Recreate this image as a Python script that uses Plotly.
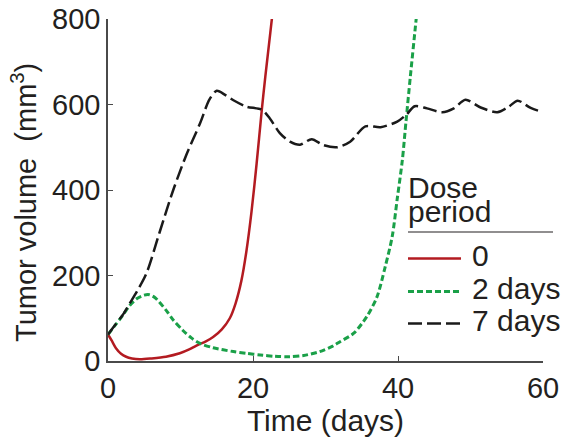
import plotly.graph_objects as go

# ---- data ----
t_red = [0, 0.5, 1.1, 1.8, 2.5, 3.3, 4.4, 6, 8, 9.9, 11.2, 12.2, 13.5, 14.5, 15.7, 16.8, 17.6, 18.4, 19.1, 19.8, 20.5, 21.2, 21.7, 22.2, 22.6, 23.0]
v_red = [62, 48, 30, 17, 10, 6, 4, 6, 10, 18, 27, 36, 46, 56, 74, 100, 135, 188, 258, 350, 462, 585, 665, 740, 800, 860]

t_green = [0, 1, 2, 3, 4, 5, 5.7, 6.5, 8, 9, 10.3, 11.5, 12.7, 14.5, 17.3, 19.1, 21, 23, 25, 27, 29.2, 31, 32, 33.9, 35.7, 37.1, 38.2, 39.2, 39.9, 40.6, 41.1, 41.7, 42.4, 42.8]
v_green = [62, 84, 106, 130, 146, 154, 155, 148, 119, 96, 72, 54, 41, 31, 22, 18, 14, 11, 10, 13, 22, 35, 45, 65, 104, 150, 218, 291, 380, 470, 560, 665, 782, 850]

t_black = [0, 1, 2, 3, 4, 5.3, 7.1, 9, 10.8, 12.7, 14, 15, 16.2, 17.3, 19.1, 21.2, 22.3, 23.7, 25.1, 26.5, 28.1, 29.7, 31.6, 33.4, 35.5, 37.6, 39.9, 41.2, 42.3, 44, 46.1, 47.7, 49.3, 51.4, 53.7, 55.3, 56.5, 58.3, 60]
v_black = [62, 85, 107, 135, 163, 205, 300, 400, 482, 556, 612, 632, 622, 610, 595, 588, 568, 533, 513, 506, 519, 505, 500, 513, 549, 547, 560, 577, 596, 591, 582, 591, 611, 593, 582, 595, 609, 592, 582]

series_names = ["0", "2 days", "7 days"]
legend_title = ["Dose", "period"]
x_ticks = [0, 20, 40, 60]
y_ticks = [0, 200, 400, 600, 800]
x_title = "Time (days)"
y_title = "Tumor volume  (mm<sup>3</sup>)"

colors = ["#b31b21", "#1aa048", "#1a1a1a"]
dashes = ["solid", "6px,3px", "14px,5px"]
widths = [2.5, 3, 2.5]

FONT = "Liberation Sans, Arial, sans-serif"
TXT = "#231f20"
AX = "#4a4a4a"

W, H = 567, 443
ML, MR, MT, MB = 108, 24, 19, 82
PW, PH = W - ML - MR, H - MT - MB


def px_x(px):
    return (px - ML) / PW


def px_y(py):
    return (H - MB - py) / PH


fig = go.Figure()
for t, v, c, d, w in zip([t_red, t_green, t_black], [v_red, v_green, v_black], colors, dashes, widths):
    fig.add_trace(go.Scatter(x=t, y=v, mode="lines",
                             line=dict(color=c, dash=d, width=w, shape="spline", smoothing=0.8),
                             showlegend=False, hoverinfo="skip"))

shapes = []
annotations = []
# y-axis title
annotations.append(dict(text=y_title, x=px_x(24), y=px_y(203), xref="paper", yref="paper",
                        xanchor="center", yanchor="middle", textangle=-90, showarrow=False,
                        font=dict(family=FONT, size=29, color=TXT)))
# manual legend
annotations.append(dict(text=legend_title[0], x=px_x(406), y=px_y(188), xref="paper", yref="paper",
                        xanchor="left", yanchor="middle", showarrow=False,
                        font=dict(family=FONT, size=30, color=TXT)))
annotations.append(dict(text=legend_title[1], x=px_x(406), y=px_y(211), xref="paper", yref="paper",
                        xanchor="left", yanchor="middle", showarrow=False,
                        font=dict(family=FONT, size=30, color=TXT)))
shapes.append(dict(type="line", xref="paper", yref="paper", x0=px_x(408), x1=px_x(553),
                   y0=px_y(232), y1=px_y(232), line=dict(color=TXT, width=1.2)))
entry_y = [258.5, 291.5, 323.5]
for name, c, d, w, ey in zip(series_names, colors, dashes, widths, entry_y):
    shapes.append(dict(type="line", xref="paper", yref="paper", x0=px_x(408), x1=px_x(461),
                       y0=px_y(ey), y1=px_y(ey), line=dict(color=c, dash=d, width=w)))
    annotations.append(dict(text=name, x=px_x(470), y=px_y(ey - 3), xref="paper", yref="paper",
                            xanchor="left", yanchor="middle", showarrow=False,
                            font=dict(family=FONT, size=30, color=TXT)))

fig.update_layout(
    width=W, height=H,
    margin=dict(l=ML, r=MR, t=MT, b=MB, autoexpand=False),
    paper_bgcolor="white", plot_bgcolor="white",
    font=dict(family=FONT, color=TXT),
    shapes=shapes, annotations=annotations,
    xaxis=dict(range=[0, 60], tickvals=x_ticks, ticks="inside", ticklen=5, tickwidth=1.2,
               tickcolor=AX, showline=True, linecolor=AX, linewidth=1.5, showgrid=False,
               zeroline=False, automargin=False, tickfont=dict(family=FONT, size=29, color=TXT),
               title=dict(text=x_title, font=dict(family=FONT, size=30, color=TXT), standoff=6)),
    yaxis=dict(range=[0, 800], tickvals=y_ticks, ticks="inside", ticklen=5, tickwidth=1.2,
               tickcolor=AX, showline=True, linecolor=AX, linewidth=1.5, showgrid=False,
               zeroline=False, automargin=False, tickfont=dict(family=FONT, size=29, color=TXT)),
)

fig.write_html("out.html")
